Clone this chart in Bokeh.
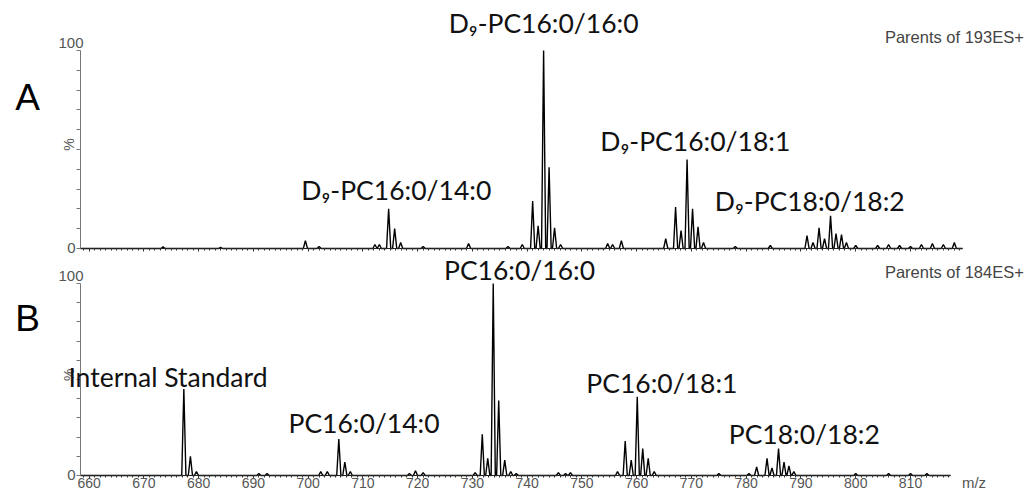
import numpy as np
from bokeh.plotting import figure
from bokeh.layouts import column
from bokeh.models import Range1d, LinearAxis, FixedTicker, SingleIntervalTicker, Label
from bokeh.embed import file_html
from bokeh.resources import INLINE

# ---------------- data ----------------
X_AXIS_START = 658.43
AXIS_END_A, AXIS_END_B = 819.5, 817.3

# Panel A: Parents of 193ES+ (m/z, relative intensity %)
a_mz = [673.5, 684.0, 699.5, 702.0, 712.2, 713.0, 714.7, 715.8, 716.9, 721.0,
        729.3, 736.5, 739.1, 741.0, 742.0, 743.0, 744.0, 745.0, 746.1, 754.7,
        755.6, 757.2, 765.3, 767.1, 768.1, 769.2, 770.2, 771.2, 772.2, 778.0,
        784.4, 791.1, 792.2, 793.3, 794.3, 795.4, 796.4, 797.4, 798.3, 800.0,
        804.0, 806.0, 808.0, 810.0, 812.0, 814.0, 816.0, 818.0]
a_int = [0.8, 0.6, 4.0, 1.0, 2.0, 2.0, 20.0, 10.0, 3.0, 1.0,
         2.5, 1.0, 2.0, 24.0, 11.5, 100.0, 41.0, 10.5, 2.0, 2.5,
         2.0, 4.0, 5.0, 21.0, 9.0, 45.0, 20.0, 11.0, 3.0, 1.0,
         1.5, 6.5, 3.0, 10.5, 5.0, 16.5, 7.5, 7.0, 3.0, 1.5,
         1.5, 2.0, 1.5, 1.0, 2.0, 2.5, 2.0, 3.0]

# Panel B: Parents of 184ES+
b_mz = [677.3, 678.5, 679.6, 691.0, 692.5, 702.3, 703.5, 705.6, 706.7, 707.7,
        718.5, 719.6, 721.0, 730.5, 731.8, 732.8, 733.8, 734.8, 735.9, 737.0,
        738.0, 745.7, 747.0, 747.9, 756.5, 757.9, 759.0, 760.1, 761.1, 762.1,
        763.2, 775.0, 780.5, 781.9, 783.8, 784.7, 785.9, 786.9, 787.8, 788.7,
        800.0, 806.0, 810.0, 813.0]
b_int = [45.0, 10.0, 2.0, 1.0, 1.0, 2.0, 2.0, 19.0, 7.0, 2.0,
         1.0, 2.5, 1.5, 1.5, 21.5, 9.0, 100.0, 39.0, 8.0, 2.0,
         1.0, 1.5, 1.0, 1.5, 2.0, 18.0, 8.0, 41.0, 14.0, 9.0,
         2.0, 1.0, 1.0, 4.5, 9.0, 4.0, 14.0, 7.0, 5.0, 2.0,
         1.0, 1.0, 1.0, 1.0]

a_labels = ["D\u2089-PC16:0/16:0", "D\u2089-PC16:0/14:0", "D\u2089-PC16:0/18:1", "D\u2089-PC18:0/18:2"]
a_label_mz = [743.0, 716.1, 770.7, 791.6]
a_label_y = [114.0, 29.3, 54.5, 24.0]

b_labels = ["PC16:0/16:0", "Internal Standard", "PC16:0/14:0", "PC16:0/18:1", "PC18:0/18:2"]
b_label_mz = [738.6, 674.4, 710.2, 764.6, 790.6]
b_label_y = [107.2, 51.5, 27.3, 48.0, 21.6]

y_ticks = list(range(0, 101, 10))

LABEL_FONT = "Lato"
AXIS_FONT = "Liberation Sans"
GREY = "#555555"

X_RANGE = (643.82, 831.0)


def profile(mz, inten, start, end, hw=0.38):
    order = np.argsort(mz)
    xs, ys = [start], [0.0]
    for i in order:
        m, h = mz[i], inten[i]
        xs += [m - hw, m, m + hw]
        ys += [0.0, h, 0.0]
    xs.append(end)
    ys.append(0.0)
    return xs, ys


def make_panel(height, y_lo, y_hi, mz, inten, axis_end, show_labels):
    p = figure(width=1025, height=height, x_range=Range1d(*X_RANGE),
               y_range=Range1d(y_lo, y_hi), output_backend="svg", toolbar_location=None,
               x_axis_type=None, y_axis_type=None, min_border=0,
               min_border_left=0, min_border_right=0, min_border_top=0,
               min_border_bottom=0)
    p.grid.visible = False
    p.outline_line_color = None
    p.background_fill_color = "white"
    p.border_fill_color = "white"

    xa = LinearAxis(bounds=(X_AXIS_START, axis_end), fixed_location=0,
                    ticker=SingleIntervalTicker(interval=10, num_minor_ticks=10))
    xa.axis_line_color = "#222222"
    xa.axis_line_width = 1
    xa.major_tick_out = 3
    xa.major_tick_in = 0
    xa.minor_tick_out = 2
    xa.minor_tick_in = 0
    xa.major_tick_line_color = "#333333"
    xa.minor_tick_line_color = "#333333"
    if show_labels:
        xa.major_label_text_font = AXIS_FONT
        xa.major_label_text_font_size = "14px"
        xa.major_label_text_color = GREY
        xa.major_label_standoff = 0
    else:
        xa.major_label_overrides = {t: "" for t in range(650, 840, 10)}
        xa.major_label_text_font_size = "1px"
        xa.major_label_standoff = 0
    p.add_layout(xa, "below")

    ya = LinearAxis(bounds=(0, 100), fixed_location=X_AXIS_START,
                    ticker=FixedTicker(ticks=y_ticks))
    ya.major_label_overrides = {t: ("0" if t == 0 else "") for t in y_ticks}
    ya.axis_line_color = "#777777"
    ya.major_tick_line_color = "#777777"
    ya.major_tick_out = 4
    ya.major_tick_in = 0
    ya.minor_tick_out = 0
    ya.minor_tick_in = 0
    ya.major_label_text_font = AXIS_FONT
    ya.major_label_text_font_size = "15px"
    ya.major_label_text_color = GREY
    ya.major_label_standoff = 1
    p.add_layout(ya, "left")

    xs, ys = profile(mz, inten, X_AXIS_START, axis_end)
    p.line(xs, ys, line_color="black", line_width=1.4)

    p.add_layout(Label(x=X_AXIS_START, y=100, text="100", text_align="right",
                       text_baseline="bottom", x_offset=3, y_offset=2,
                       text_font=AXIS_FONT, text_font_size="15px",
                       text_color=GREY))
    p.add_layout(Label(x=656.4, y=52.5, text="%", angle=1.5708, text_align="center",
                       text_baseline="middle", text_font=AXIS_FONT,
                       text_font_size="14px", text_color=GREY))
    return p


# Panel A: 0% at y=248, 100% at y=50 of a 255 px canvas
pA = make_panel(255, -3.54, 125.25, a_mz, a_int, AXIS_END_A, False)
# Panel B: 0% at y=220, 100% at y=28 of a 241 px canvas
pB = make_panel(241, -10.94, 114.58, b_mz, b_int, AXIS_END_B, True)

for txt, mx, my in zip(a_labels, a_label_mz, a_label_y):
    pA.add_layout(Label(x=mx, y=my, text=txt, text_align="center", text_baseline="middle",
                        text_font=LABEL_FONT, text_font_size="26.5px",
                        text_color="#111111"))
for txt, mx, my in zip(b_labels, b_label_mz, b_label_y):
    pB.add_layout(Label(x=mx, y=my, text=txt, text_align="center", text_baseline="middle",
                        text_font=LABEL_FONT, text_font_size="26.5px",
                        text_color="#111111"))

pA.add_layout(Label(x=830.7, y=106.6, text="Parents of 193ES+", text_align="right",
                    text_baseline="middle", text_font=AXIS_FONT,
                    text_font_size="16.5px", text_color="#444444"))
pB.add_layout(Label(x=830.7, y=106.2, text="Parents of 184ES+", text_align="right",
                    text_baseline="middle", text_font=AXIS_FONT,
                    text_font_size="16.5px", text_color="#444444"))

pA.add_layout(Label(x=648.75, y=76.3, text="A", text_align="center", text_baseline="middle",
                    text_font=AXIS_FONT, text_font_size="37px", text_color="black"))
pB.add_layout(Label(x=648.75, y=82.0, text="B", text_align="center", text_baseline="middle",
                    text_font=AXIS_FONT, text_font_size="37px", text_color="black"))

pB.add_layout(Label(x=821.6, y=-3.4, text="m/z", text_align="center", text_baseline="middle",
                    text_font=AXIS_FONT, text_font_size="15px", text_color=GREY))

layout = column(pA, pB, spacing=0)
open("out.html", "w").write(file_html(layout, INLINE))
